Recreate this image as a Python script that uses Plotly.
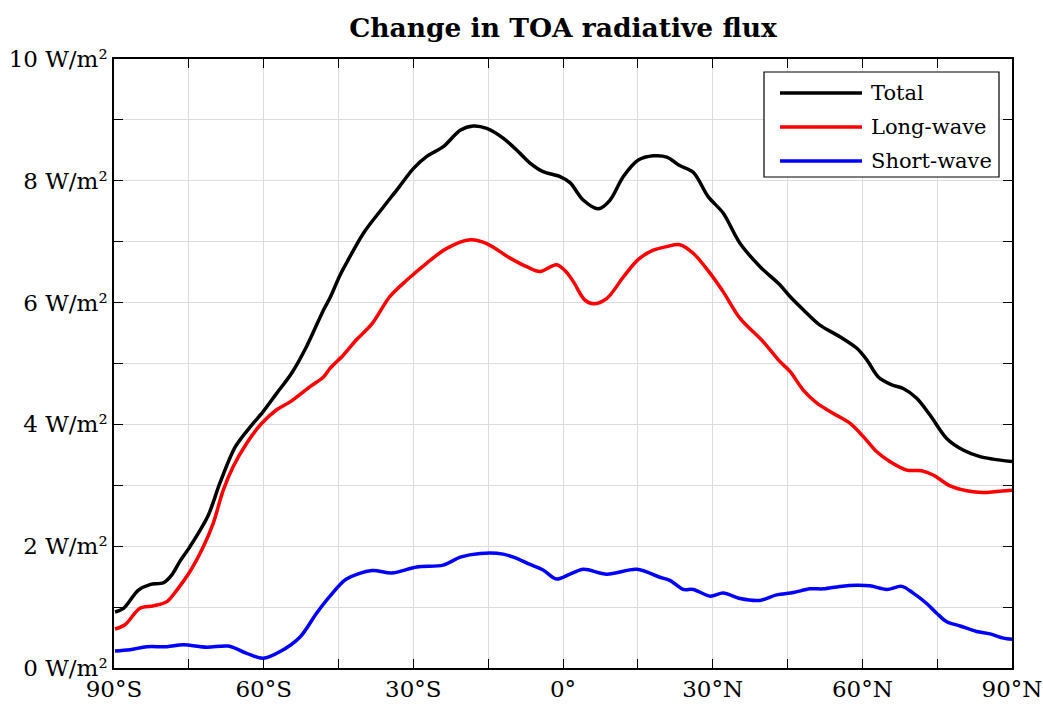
import plotly.graph_objects as go

# Zonal-mean change in top-of-atmosphere radiative flux (W/m^2) by latitude
lat_total = [-89.8, -88.1, -85.1, -82.8, -80.1, -78.4, -76.8, -74.8, -71.1, -68.8, -65.7, -62.7,
             -60.1, -57.4, -54.4, -51.4, -48.0, -46.7, -44.7, -43.4, -40.0, -36.0, -33.3, -30.0,
             -27.3, -24.0, -20.6, -18.0, -15.3, -12.0, -8.6, -6.6, -4.0, -0.6, 1.4, 4.1, 7.1,
             9.4, 12.1, 15.1, 18.1, 20.8, 23.4, 26.1, 29.1, 32.1, 35.5, 39.5, 43.5, 45.5, 48.2,
             51.5, 55.5, 58.9, 60.9, 63.2, 65.9, 68.2, 70.9, 73.6, 76.9, 80.2, 83.6, 86.2, 90.0]
total = [0.92, 0.98, 1.28, 1.37, 1.40, 1.53, 1.75, 1.99, 2.51, 3.03, 3.63, 3.96,
         4.21, 4.51, 4.84, 5.28, 5.88, 6.08, 6.45, 6.65, 7.14, 7.57, 7.85, 8.20,
         8.40, 8.56, 8.83, 8.90, 8.86, 8.70, 8.45, 8.29, 8.15, 8.07, 7.97, 7.68, 7.54,
         7.68, 8.07, 8.34, 8.41, 8.39, 8.25, 8.14, 7.74, 7.47, 6.97, 6.59, 6.29, 6.10, 5.88,
         5.63, 5.44, 5.25, 5.06, 4.78, 4.65, 4.59, 4.43, 4.15, 3.77, 3.58, 3.47, 3.43, 3.39]

lat_lw = [-89.8, -87.8, -84.8, -82.1, -79.4, -77.4, -74.8, -72.1, -70.1, -68.1, -66.1, -63.4,
          -60.7, -57.4, -54.7, -50.7, -48.0, -46.7, -44.0, -41.4, -38.3, -34.7, -31.3, -27.3,
          -23.3, -18.6, -15.3, -10.6, -7.3, -4.6, -1.3, 0.7, 2.1, 4.4, 6.1, 8.8, 12.1, 15.1,
          18.1, 20.8, 23.4, 26.1, 29.5, 32.1, 35.5, 40.1, 43.5, 45.5, 48.2, 50.9, 54.2, 57.5,
          60.2, 62.9, 65.5, 68.9, 71.9, 74.2, 77.6, 80.9, 84.2, 86.9, 90.0]
longwave = [0.64, 0.71, 0.98, 1.02, 1.09, 1.28, 1.58, 1.99, 2.38, 2.92, 3.31, 3.69,
            3.99, 4.24, 4.37, 4.62, 4.78, 4.92, 5.14, 5.39, 5.65, 6.10, 6.37, 6.65,
            6.89, 7.03, 6.97, 6.73, 6.59, 6.51, 6.62, 6.50, 6.34, 6.04, 5.98, 6.07, 6.42, 6.71,
            6.86, 6.92, 6.95, 6.81, 6.48, 6.18, 5.74, 5.36, 5.03, 4.87, 4.56, 4.35, 4.18, 4.02,
            3.80, 3.55, 3.39, 3.25, 3.24, 3.17, 2.99, 2.91, 2.88, 2.90, 2.92]

lat_sw = [-89.8, -86.8, -83.4, -79.4, -76.1, -71.4, -67.1, -63.4, -60.1, -56.7, -52.7, -49.4,
          -46.7, -43.4, -38.3, -34.3, -29.3, -24.0, -20.6, -16.6, -12.0, -9.3, -6.6, -4.0,
          -1.3, 1.4, 4.1, 8.8, 14.8, 19.4, 21.4, 24.1, 26.1, 29.5, 32.1, 35.5, 39.5, 42.8,
          46.2, 49.5, 52.2, 55.5, 58.9, 61.5, 64.9, 67.9, 70.2, 72.9, 74.9, 76.9, 79.6, 82.9,
          85.6, 88.3, 90.0]
shortwave = [0.28, 0.30, 0.35, 0.35, 0.38, 0.34, 0.36, 0.24, 0.16, 0.27, 0.51, 0.90,
             1.18, 1.46, 1.60, 1.56, 1.66, 1.69, 1.82, 1.88, 1.87, 1.80, 1.70, 1.61,
             1.46, 1.54, 1.62, 1.54, 1.62, 1.49, 1.44, 1.29, 1.29, 1.18, 1.23, 1.14, 1.11, 1.20,
             1.24, 1.30, 1.30, 1.34, 1.36, 1.35, 1.29, 1.34, 1.23, 1.06, 0.90, 0.76, 0.69, 0.60,
             0.56, 0.49, 0.47]

series_names = ["Total", "Long-wave", "Short-wave"]
series_colors = ["#000000", "#ff0000", "#0000ff"]

x_ticks = list(range(-90, 91, 15))
x_labels = ["90°S", "", "60°S", "", "30°S", "", "0°", "", "30°N", "", "60°N", "", "90°N"]
y_ticks = list(range(0, 11))
y_labels = [f"{v} W/m²" if v % 2 == 0 else "" for v in y_ticks]

FONT = "DejaVu Serif"

fig = go.Figure()
for name, lx, ly, col in zip(series_names, [lat_total, lat_lw, lat_sw],
                             [total, longwave, shortwave], series_colors):
    fig.add_trace(go.Scatter(x=lx, y=ly, mode="lines", name=name,
                             line=dict(color=col, width=3.5, shape="spline", smoothing=0.9),
                             showlegend=False))

# Legend box drawn in plot-area (paper) coordinates
W, H = 1043, 707
L, R, T, B = 114, 31, 59, 39
pw, ph = W - L - R, H - T - B


def px(x):
    return (x - L) / pw


def py(y):
    return (H - B - y) / ph


shapes = [dict(type="rect", xref="paper", yref="paper",
               x0=px(764), x1=px(999), y0=py(177), y1=py(72),
               line=dict(color="black", width=1.2), fillcolor="white", layer="above")]
annotations = []
for i, (name, col) in enumerate(zip(series_names, series_colors)):
    yy = 93 + 34 * i
    shapes.append(dict(type="line", xref="paper", yref="paper",
                       x0=px(780), x1=px(862), y0=py(yy), y1=py(yy),
                       line=dict(color=col, width=3.5), layer="above"))
    annotations.append(dict(xref="paper", yref="paper", x=px(869), y=py(yy),
                            text=name, showarrow=False, xanchor="left", yanchor="middle",
                            font=dict(family=FONT, size=21, color="black")))

fig.update_layout(
    width=W, height=H,
    margin=dict(l=L, r=R, t=T, b=B),
    paper_bgcolor="white", plot_bgcolor="white",
    title=dict(text="<b>Change in TOA radiative flux</b>", x=px(563), xref="paper",
               xanchor="center", y=1 - 28 / H, yref="container", yanchor="middle",
               font=dict(family=FONT, size=26.5, color="black")),
    shapes=shapes, annotations=annotations,
    font=dict(family=FONT, color="black"),
)
axis_style = dict(showgrid=True, gridcolor="#dcdcdc", gridwidth=1,
                  showline=True, linecolor="black", linewidth=1.5, mirror="ticks",
                  ticks="inside", ticklen=9, tickcolor="black", tickwidth=1.2,
                  tickfont=dict(family=FONT, size=23, color="black"),
                  zeroline=False, automargin=False)
fig.update_xaxes(range=[-90, 90], tickvals=x_ticks, ticktext=x_labels, **axis_style)
fig.update_yaxes(range=[0, 10], tickvals=y_ticks, ticktext=y_labels, **axis_style)

fig.write_html("out.html")
